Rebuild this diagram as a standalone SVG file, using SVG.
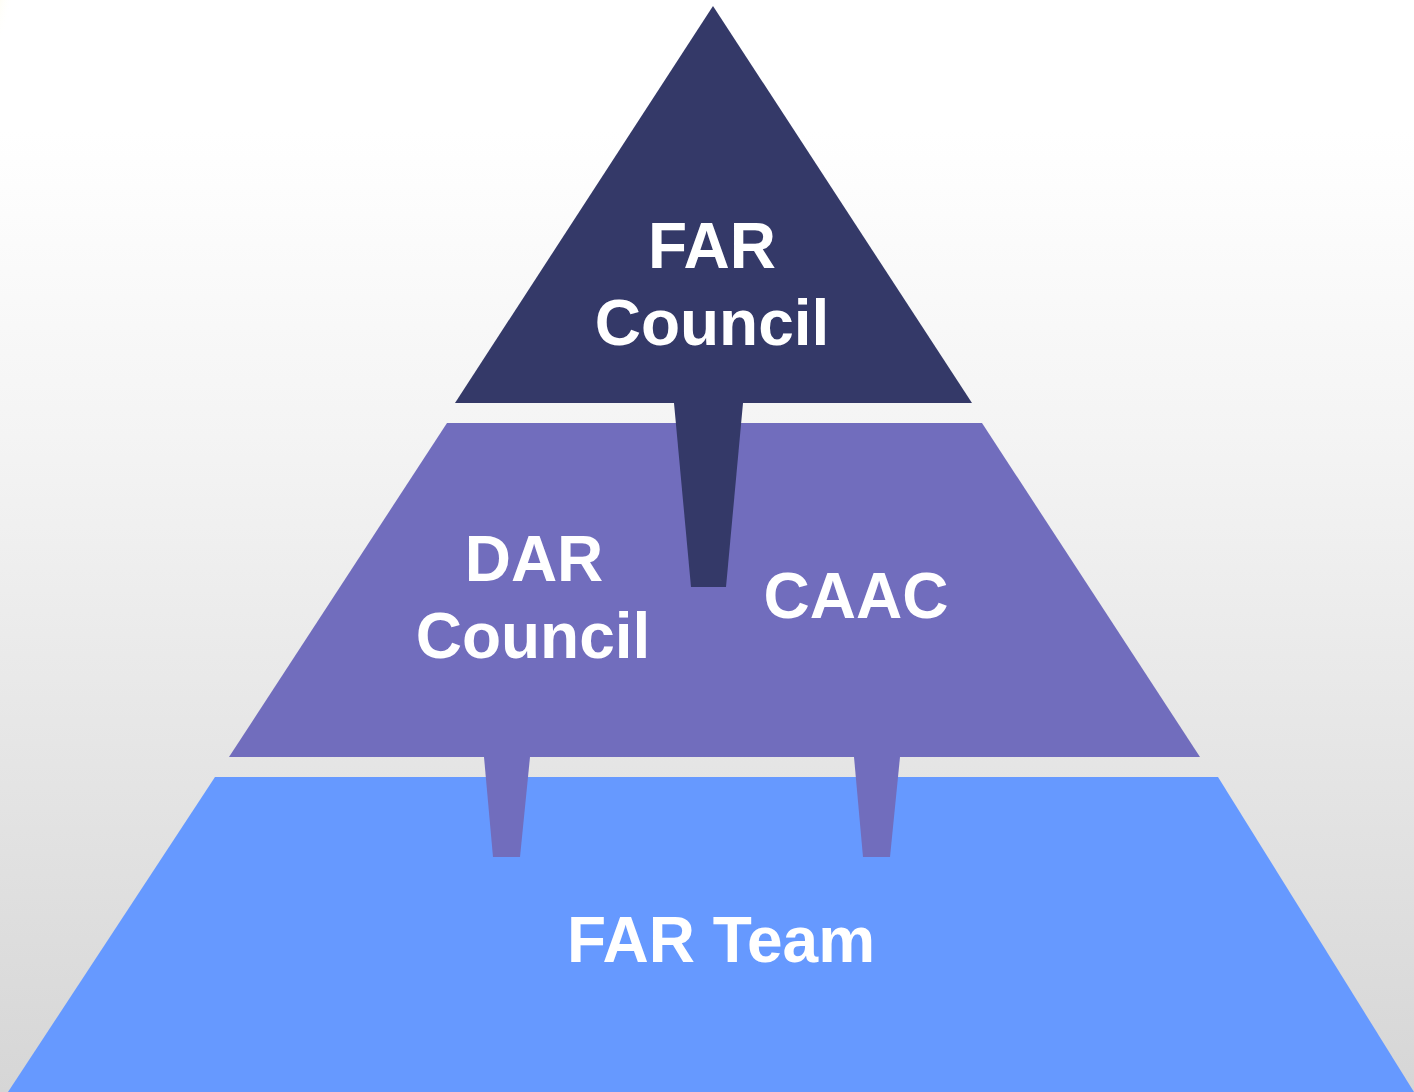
<svg xmlns="http://www.w3.org/2000/svg" width="1414" height="1092" viewBox="0 0 1414 1092">
  <defs>
    <linearGradient id="bg" x1="0" y1="0" x2="0" y2="1">
      <stop offset="0" stop-color="#FFFFFF"/>
      <stop offset="0.12" stop-color="#FFFFFF"/>
      <stop offset="0.4" stop-color="#F4F4F4"/>
      <stop offset="1" stop-color="#D6D6D6"/>
    </linearGradient>
    <radialGradient id="glow" cx="0" cy="0" r="1">
      <stop offset="0" stop-color="#F0E030" stop-opacity="0.9"/>
      <stop offset="0.4" stop-color="#F8F2A0" stop-opacity="0.4"/>
      <stop offset="1" stop-color="#FFFFFF" stop-opacity="0"/>
    </radialGradient>
    <style>
      .label { font-family: "Liberation Sans", Arial, sans-serif; font-weight: bold; font-size: 64px; fill: #FFFFFF; text-anchor: middle; }
      .top { fill: #343968; }
      .mid { fill: #716DBD; }
      .bot { fill: #6699FF; }
    </style>
  </defs>
  <rect x="0" y="0" width="1414" height="1092" fill="url(#bg)"/>
  <ellipse cx="0" cy="0" rx="18" ry="60" fill="url(#glow)"/>

  <g id="far-team">
    <polygon class="bot" points="215,777 1218,777 1414,1092 8,1092"/>
    <text class="label" x="721" y="962">FAR Team</text>
  </g>

  <g id="middle-tier">
    <polygon class="mid" points="447,423 982,423 1200,757 229,757"/>
    <text class="label" x="534" y="581">DAR</text>
    <text class="label" x="533" y="658">Council</text>
    <text class="label" x="856" y="618">CAAC</text>
  </g>

  <g id="far-council">
    <polygon class="top" points="713,6 972,403 455,403"/>
    <text class="label" x="712" y="268">FAR</text>
    <text class="label" x="712" y="345">Council</text>
  </g>

  <g id="connectors">
    <polygon class="top" points="674,403 743,403 726,587 691,587"/>
    <polygon class="mid" points="484,757 530,757 520,857 493,857"/>
    <polygon class="mid" points="854,757 900,757 890,857 863,857"/>
  </g>
</svg>
